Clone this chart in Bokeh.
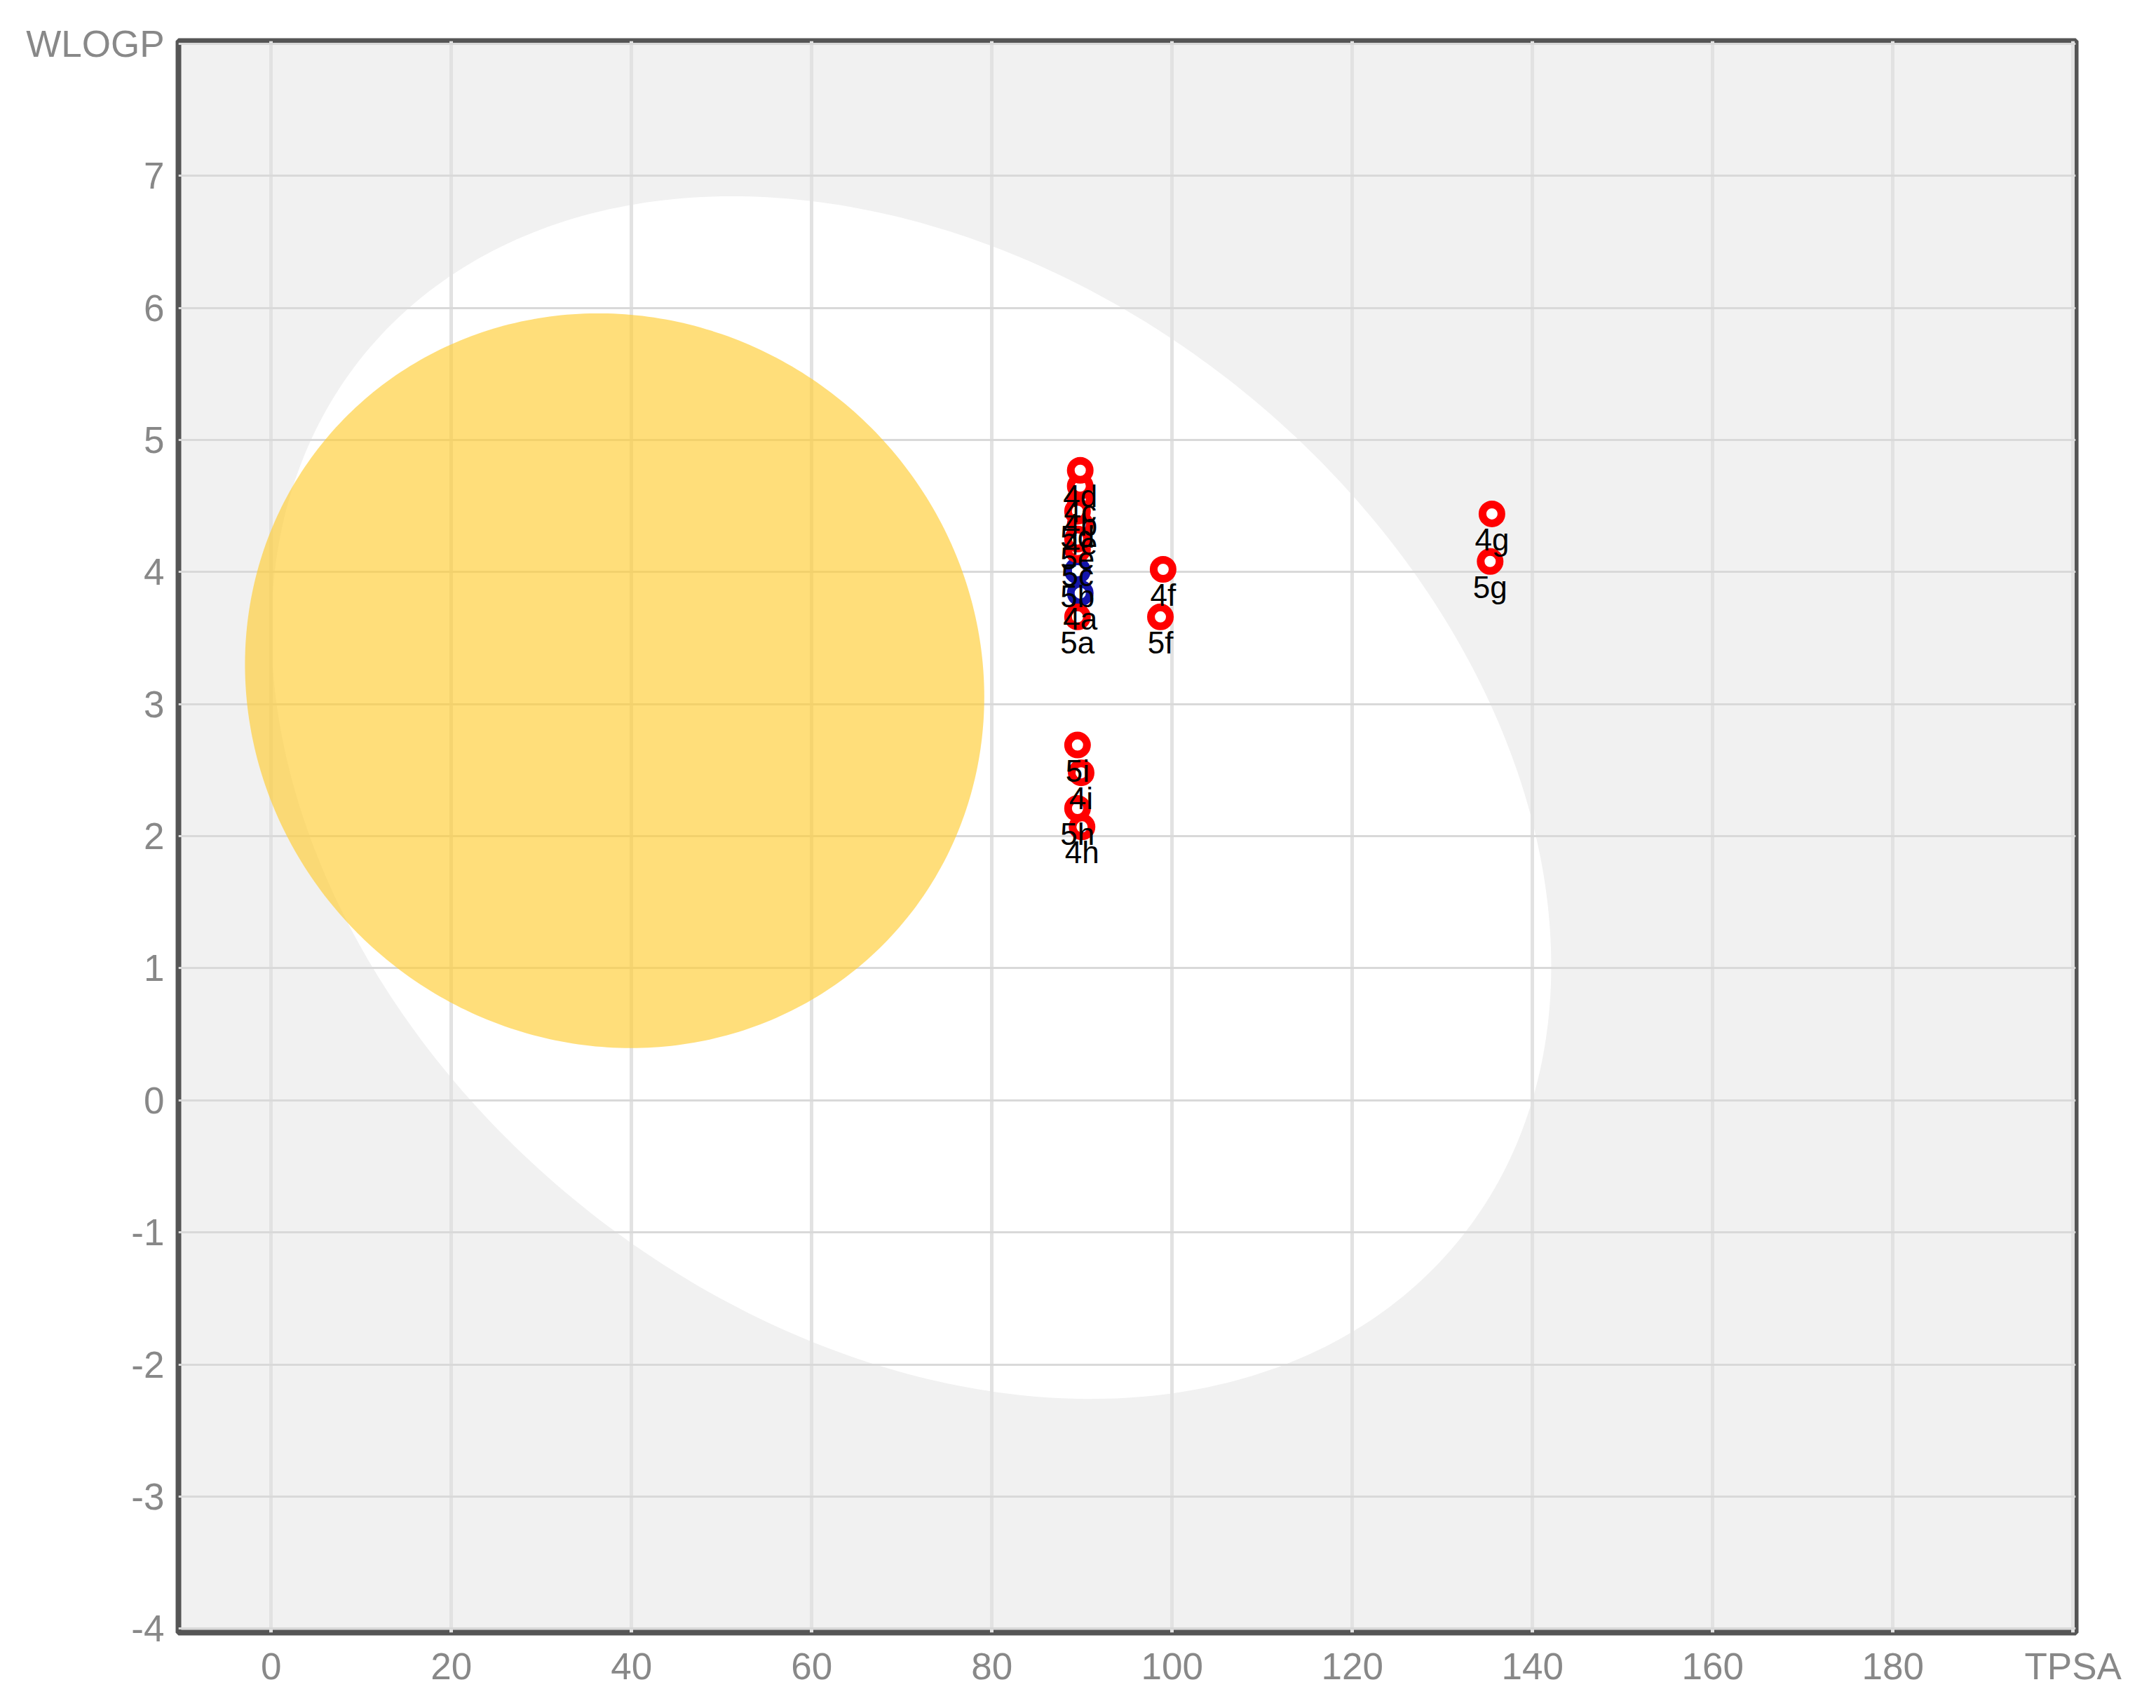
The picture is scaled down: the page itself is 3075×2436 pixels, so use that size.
import numpy as np
from bokeh.plotting import figure
from bokeh.models import ColumnDataSource, FixedTicker, Range1d
from bokeh.core.properties import value
from bokeh.embed import file_html
from bokeh.resources import INLINE

# ---- data ----
compounds = ["4a", "4b", "4c", "4d", "4e", "4f", "4g", "4h", "4i",
             "5a", "5b", "5c", "5d", "5e", "5f", "5g", "5h", "5i"]
tpsa = [89.8, 89.8, 89.8, 89.8, 89.8, 99.0, 135.5, 90.0, 89.9,
        89.5, 89.5, 89.5, 89.5, 89.5, 98.7, 135.3, 89.5, 89.5]
wlogp = [3.84, 4.55, 4.65, 4.77, 4.36, 4.02, 4.44, 2.07, 2.48,
         3.66, 4.01, 4.17, 4.46, 4.25, 3.66, 4.08, 2.21, 2.69]
pgp_substrate = [True, False, False, False, False, False, False, False, False,
                 False, True, False, False, False, False, False, False, False]

x_ticks = [0, 20, 40, 60, 80, 100, 120, 140, 160, 180, 200]
x_tick_labels = ["0", "20", "40", "60", "80", "100", "120", "140", "160", "180", "TPSA"]
y_ticks = [-4, -3, -2, -1, 0, 1, 2, 3, 4, 5, 6, 7, 8]
y_tick_labels = ["-4", "-3", "-2", "-1", "0", "1", "2", "3", "4", "5", "6", "7", "WLOGP"]

# BOILED-Egg model ellipses: centre, full width, full height, rotation (deg, data space)
white_center = (71.051, 2.292)
white_size = (142.081, 8.740)
white_angle = -1.031325
yolk_center = (38.117, 3.177)
yolk_size = (82.061, 5.557)
yolk_angle = -0.171887


def ellipse_outline(center, size, angle_deg, n=400):
    t = np.linspace(0, 2 * np.pi, n)
    a, b = size[0] / 2.0, size[1] / 2.0
    th = np.deg2rad(angle_deg)
    xs = center[0] + a * np.cos(t) * np.cos(th) - b * np.sin(t) * np.sin(th)
    ys = center[1] + a * np.cos(t) * np.sin(th) + b * np.sin(t) * np.cos(th)
    return xs, ys


p = figure(width=3063, height=2423,
           x_range=Range1d(-10.3, 200.3), y_range=Range1d(-4.03, 8.02),
           output_backend="svg", toolbar_location=None,
           min_border_left=254, min_border_top=58,
           min_border_right=103, min_border_bottom=95)

p.background_fill_color = "#f1f1f1"
p.border_fill_color = "white"
p.outline_line_color = "#555555"
p.outline_line_width = 8

wx, wy = ellipse_outline(white_center, white_size, white_angle)
p.patch(wx, wy, fill_color="white", line_color=None, level="image")
yx, yy = ellipse_outline(yolk_center, yolk_size, yolk_angle)
p.patch(yx, yy, fill_color="#FFCC33", fill_alpha=0.65, line_color=None)

colors = ["#1414aa" if s else "#ff0000" for s in pgp_substrate]
src = ColumnDataSource(dict(x=tpsa, y=wlogp, name=compounds, color=colors))
p.scatter(x="x", y="y", source=src, size=27, line_width=11,
          line_color="color", fill_color="white")
p.text(x="x", y="y", text="name", source=src,
       text_font=value("Liberation Sans"), text_font_size="44px",
       text_align="center", text_baseline="top", y_offset=12,
       text_color="black")

p.xaxis.ticker = FixedTicker(ticks=x_ticks)
p.yaxis.ticker = FixedTicker(ticks=y_ticks)
p.xaxis.major_label_overrides = {t: l for t, l in zip(x_ticks, x_tick_labels)}
p.yaxis.major_label_overrides = {t: l for t, l in zip(y_ticks, y_tick_labels)}
for ax in (p.xaxis, p.yaxis):
    ax.axis_line_color = None
    ax.major_tick_line_color = None
    ax.minor_tick_line_color = None
    ax.major_label_text_font = "Liberation Sans"
    ax.major_label_text_font_size = "53px"
    ax.major_label_text_color = "#888888"
p.xaxis.major_label_standoff = 12
p.yaxis.major_label_standoff = 14

p.xgrid.ticker = FixedTicker(ticks=x_ticks)
p.ygrid.ticker = FixedTicker(ticks=y_ticks)
p.xgrid.grid_line_color = "#e2e2e2"
p.xgrid.grid_line_width = 5
p.ygrid.grid_line_color = "#d9d9d9"
p.ygrid.grid_line_width = 3

open("out.html", "w").write(file_html(p, INLINE))
